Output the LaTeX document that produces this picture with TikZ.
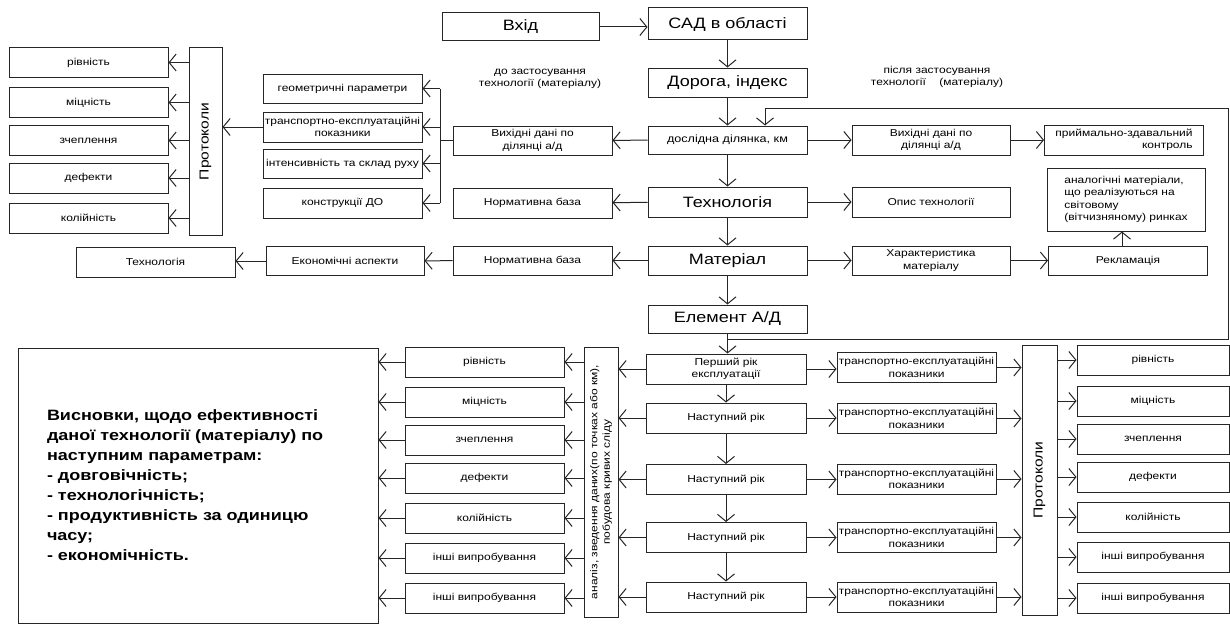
\documentclass[tikz,border=0pt]{standalone}
\usepackage{fontspec}
\setmainfont{Liberation Sans}[FakeStretch=1.2]
\usetikzlibrary{arrows.meta}
\newcommand{\txtsm}{\fontsize{10}{12.5}\selectfont}
\newcommand{\txtbig}{\fontsize{15}{17}\selectfont}
\newcommand{\txtvert}{\fontsize{13}{15}\selectfont}
\newcommand{\txtconc}{\fontsize{15}{20}\selectfont\bfseries}
\tikzset{blk/.style={draw=black!85,line width=1pt,minimum width=159pt,minimum height=29pt,inner sep=1pt,align=center,font=\txtsm}}
\tikzset{bigblk/.style={blk,font=\txtbig}}
\tikzset{arr/.style={draw=black!85,line width=1pt,-{Straight Barb[length=7pt,width=17pt]}}}
\tikzset{lnk/.style={draw=black!85,line width=1pt}}
\tikzset{note/.style={align=center,font=\txtsm}}

\begin{document}
\begin{tikzpicture}[x=1pt,y=-1pt]
\useasboundingbox[fill=white] (0,0) rectangle (1230,626);
% центральна колонка
\node[bigblk,minimum width=157pt,minimum height=28pt] (vin) at (520.5,27) {Вхід};
\node[bigblk,minimum height=32pt] (sad) at (727.5,24) {САД в області};
\node[bigblk] (road) at (727.5,82.5) {Дорога, індекс};
\node[blk,minimum height=28pt,font=\fontsize{10.5}{12.5}\selectfont] (site) at (727.5,140) {дослідна ділянка, км};
\node[bigblk,minimum height=30pt] (tech) at (727.5,202) {Технологія};
\node[bigblk] (mat) at (727.5,260.5) {Матеріал};
\node[bigblk,minimum height=28pt] (elem) at (727.5,319) {Елемент А/Д};
\draw[arr] (vin.east) -- (vin.east -| sad.west);
\draw[arr] (sad) -- (road);
\draw[arr] (road) -- (site);
\draw[arr] (site) -- (tech);
\draw[arr] (tech) -- (mat);
\draw[arr] (mat) -- (elem);
\node[note] (before) at (540,79) {до застосування\\технології (матеріалу)};
\node[note] (after) at (937,77) {після застосування\\технології ~~~(матеріалу)};
% ліва частина
\node[blk] (srcbefore) at (532.5,140.5) {Вихідні дані по\\ділянці а/д};
\node[blk,minimum height=30pt] (normtop) at (532.5,203) {Нормативна база};
\node[blk] (normbot) at (532.5,260.5) {Нормативна база};
\node[blk,minimum width=158pt] (econ) at (345,261) {Економічні аспекти};
\node[blk,minimum height=30pt] (techL) at (155.5,262) {Технологія};
\draw[arr] (site) -- (srcbefore);
\draw[arr] (tech) -- (normtop);
\draw[arr] (mat) -- (normbot);
\draw[arr] (normbot) -- (econ);
\draw[arr] (econ.west) -- (econ.west -| techL.east);
\node[blk] (geom) at (342.5,88.5) {геометричні параметри};
\node[blk,minimum height=30pt] (trans) at (342.5,127) {транспортно-експлуатаційні\\показники};
\node[blk] (intens) at (342.5,163.5) {інтенсивність та склад руху};
\node[blk,minimum height=30pt] (constr) at (342.5,203) {конструкції ДО};
\coordinate (brkT) at (440,88.5);
\coordinate (brkB) at (440,203);
\draw[lnk] (srcbefore.west) -- (srcbefore.west -| brkT);
\draw[lnk] (brkT) -- (brkB);
\foreach \n in {geom,trans,intens,constr}
  \draw[arr] (brkT |- \n) -- (\n.east);
\node[blk,minimum width=33pt,minimum height=187pt,font=\txtvert] (protL) at (205.5,141.5) {\rotatebox{90}{Протоколи}};
\draw[arr] (trans.west) -- (trans.west -| protL.east);
\foreach \n/\y/\t in {lp1/62.5/рівність,lp2/102.5/міцність,lp3/140.5/зчеплення,lp4/178/дефекти,lp5/218/колійність}
  {\node[blk,minimum height=30pt] (\n) at (88.5,\y) {\t};
   \draw[arr] (protL.west |- \n) -- (\n.east);}
% права частина
\node[blk,minimum width=158pt,minimum height=30pt] (srcafter) at (931,140) {Вихідні дані по\\ділянці а/д};
\node[blk,minimum width=158pt,minimum height=30pt] (descr) at (931,202) {Опис технології};
\node[blk,minimum width=158pt] (charact) at (931,260.5) {Характеристика\\матеріалу};
\node[blk,minimum height=30pt,align=right] (accept) at (1124,140) {приймально-здавальний\\контроль};
\node[blk,minimum width=158pt,minimum height=63pt,align=left] (analog) at (1126,199.5) {аналогічні матеріали,\\що реалізуються на\\світовому\\(вітчизняному) ринках};
\node[blk] (advert) at (1128,260.5) {Рекламація};
\draw[arr] (site) -- (srcafter);
\draw[arr] (srcafter) -- (accept);
\draw[arr] (tech) -- (descr);
\draw[arr] (mat) -- (charact);
\draw[arr] (charact) -- (advert);
\draw[arr] (advert.north -| 1122,0) -- (analog.south -| 1122,0);
% роки експлуатації
\node[blk,minimum width=160pt,minimum height=30pt] (yr1) at (726,369) {Перший рік\\експлуатації};
\foreach \i/\y in {2/418,3/479.5,4/537.5,5/597}
  \node[blk,minimum width=160pt,minimum height=30pt] (yr\i) at (726,\y) {Наступний рік};
\draw[arr] (elem.south) -- (elem.south |- yr1.north);
\foreach \i/\j in {1/2,2/3,3/4,4/5}
  \draw[arr] (yr\i) -- (yr\j);
\coordinate (fbA) at (727.5,339);
\coordinate (fbB) at (1228,339);
\coordinate (fbC) at (1228,108);
\coordinate (fbD) at (765,108);
\draw[arr] (fbA) -- (fbB) -- (fbC) -- (fbD) -- (fbD |- site.north);
\foreach \i/\y in {1/367.5,2/418.5,3/479,4/537.5,5/597}
  \node[blk,minimum height=30pt] (tp\i) at (916.5,\y) {транспортно-експлуатаційні\\показники};
\node[blk,minimum width=35pt,minimum height=270pt,font=\txtvert] (protR) at (1039.5,480) {\rotatebox{90}{Протоколи}};
\node[blk,minimum width=34pt,minimum height=270pt] (anl) at (601,482) {\rotatebox{90}{\begin{tabular}{@{}c@{}}аналіз, зведення даних(по точках або км),\\побудова кривих сліду\end{tabular}}};
\foreach \i in {1,...,5}
  {\draw[arr] (yr\i.east) -- (yr\i.east -| tp\i.west);
   \draw[arr] (tp\i.east) -- (tp\i.east -| protR.west);
   \draw[arr] (yr\i.west) -- (yr\i.west -| anl.east);}
% висновки
\node[blk,minimum width=360pt,minimum height=275pt,text width=302pt,inner xsep=29pt,align=left,font=\txtconc] (concl) at (198,485.5) {Висновки, щодо ефективності\\даної технології (матеріалу) по\\наступним параметрам:\\- довговічність;\\- технологічність;\\- продуктивність за одиницю\\часу;\\- економічність.};
\foreach \i/\y/\t in {1/362/рівність,2/402/міцність,3/440/зчеплення,4/478/дефекти,5/518/колійність,6/558/інші випробування,7/598/інші випробування}
  {\node[blk,minimum height=30pt] (bl\i) at (484.5,\y) {\t};
   \draw[arr] (anl.west |- bl\i) -- (bl\i.east);
   \draw[arr] (bl\i.west) -- (bl\i.west -| concl.east);}
\foreach \i/\y/\t in {1/360/рівність,2/401/міцність,3/439/зчеплення,4/477/дефекти,5/517/колійність,6/557/інші випробування,7/598/інші випробування}
  {\node[blk,minimum width=152pt,minimum height=30pt] (br\i) at (1153,\y) {\t};
   \draw[arr] (protR.east |- br\i) -- (br\i.west);}
\end{tikzpicture}
\end{document}
